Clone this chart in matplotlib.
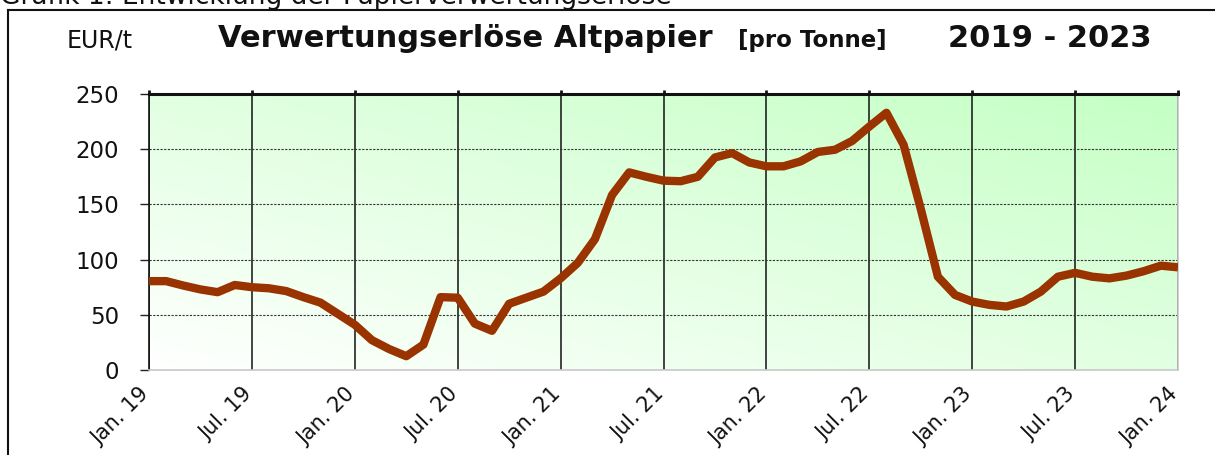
import numpy as np
import matplotlib
matplotlib.use("Agg")
import matplotlib.pyplot as plt
from matplotlib.lines import Line2D
from matplotlib.transforms import ScaledTranslation

# ---------------- data ----------------
tick_labels = ["Jan. 19", "Jul. 19", "Jan. 20", "Jul. 20", "Jan. 21", "Jul. 21",
               "Jan. 22", "Jul. 22", "Jan. 23", "Jul. 23", "Jan. 24"]
values_2019 = [80.5, 80.5, 76.5, 73, 70.5, 77, 75, 74, 71.5, 66, 61, 51]
values_2020 = [41, 27, 19, 12.5, 23, 66, 65.5, 42, 35.5, 60, 65.5, 71]
values_2021 = [83, 97, 118.5, 158.5, 179, 175, 171.5, 171, 175, 192.5, 196.5, 188]
values_2022 = [184.5, 184.5, 189, 197.5, 199.5, 207.5, 220.5, 233, 204, 146, 84.5, 68]
values_2023 = [62, 59, 57.5, 62, 71, 84.5, 88, 84.5, 83, 85.5, 89.5, 94.5]
values_2024 = [93]
y_ticks = [0, 50, 100, 150, 200, 250]

values = values_2019 + values_2020 + values_2021 + values_2022 + values_2023 + values_2024
months = np.arange(len(values))
tick_pos = np.arange(0, len(values), 6)

plt.rcParams['font.family'] = ['DejaVu Sans']

W, H = 1215, 455
fig = plt.figure(figsize=(W / 100, H / 100), dpi=100)
fig.patch.set_facecolor("white")

left, right, top, bottom = 149, 1178, 94, 370
ax = fig.add_axes([left / W, 1 - bottom / H, (right - left) / W, (bottom - top) / H])

# gradient background (white bottom-left -> light green top-right)
nx, ny = 200, 100
gx = np.linspace(0, 1, nx)[None, :]
gy = np.linspace(0, 1, ny)[:, None]
t = (gx + gy) / 2.0
c0 = np.array([1.0, 1.0, 1.0])
c1 = np.array([0.77, 1.0, 0.77])
img = c0[None, None, :] * (1 - t[..., None]) + c1[None, None, :] * t[..., None]
ax.imshow(img, extent=[0, 60, 0, 250], origin="lower", aspect="auto", zorder=0,
          interpolation="bilinear")

ax.set_xlim(0, 60)
ax.set_ylim(0, 250)

# grid
for xv in tick_pos:
    ax.axvline(xv, color="#111111", lw=1.1, zorder=1)
for yv in y_ticks[1:-1]:
    ax.axhline(yv, color="#333333", lw=0.8, dashes=(2.0, 1.3), zorder=1)

ax.plot(months, values, color="#993300", lw=6.0, solid_joinstyle="round",
        solid_capstyle="butt", zorder=3)

# spines
ax.spines["top"].set_color("#111111")
ax.spines["top"].set_linewidth(2.2)
ax.spines["left"].set_color("#111111")
ax.spines["left"].set_linewidth(1.2)
ax.spines["bottom"].set_color("#c8c8c8")
ax.spines["bottom"].set_linewidth(1.2)
ax.spines["right"].set_color("#c8c8c8")
ax.spines["right"].set_linewidth(1.2)

ax.set_yticks(y_ticks)
ax.set_yticklabels([str(v) for v in y_ticks])
ax.tick_params(axis="y", length=6.5, width=1.0, color="#222222", pad=15,
               labelsize=16.5, labelcolor="#111111")

ax.set_xticks(tick_pos)
ax.set_xticklabels(tick_labels)
ax.tick_params(axis="x", bottom=False, top=True, labelbottom=True, labeltop=False,
               length=3, width=2.0, color="#111111", pad=7, labelsize=15,
               labelcolor="#111111")
offset = ScaledTranslation(4 / 100, 0, fig.dpi_scale_trans)
for lab in ax.get_xticklabels():
    lab.set_rotation(45)
    lab.set_ha("right")
    lab.set_va("top")
    lab.set_transform(lab.get_transform() + offset)

# outer frame (left and top only visible)
fig.add_artist(Line2D([8 / W, 8 / W], [0, 1 - 10 / H], transform=fig.transFigure,
                      color="#111111", lw=1.5))
fig.add_artist(Line2D([8 / W, 1], [1 - 10 / H, 1 - 10 / H], transform=fig.transFigure,
                      color="#111111", lw=1.5))

# caption cut at top
fig.text(0 / W, 1 - 4 / H, "Grafik 1: Entwicklung der Papierverwertungserlöse",
         fontsize=19, ha="left", va="baseline", color="#111111")

# titles
fig.text(67 / W, 1 - 47 / H, "EUR/t", fontsize=17, ha="left", va="baseline",
         color="#111111")
fig.text(218 / W, 1 - 47 / H, "Verwertungserlöse Altpapier", fontsize=22,
         fontweight="bold", ha="left", va="baseline", color="#111111")
fig.text(738 / W, 1 - 47 / H, "[pro Tonne]", fontsize=16.5, fontweight="bold",
         ha="left", va="baseline", color="#111111")
fig.text(948 / W, 1 - 47 / H, "2019 - 2023", fontsize=22, fontweight="bold",
         ha="left", va="baseline", color="#111111")

fig.savefig("out.png", dpi=100)
